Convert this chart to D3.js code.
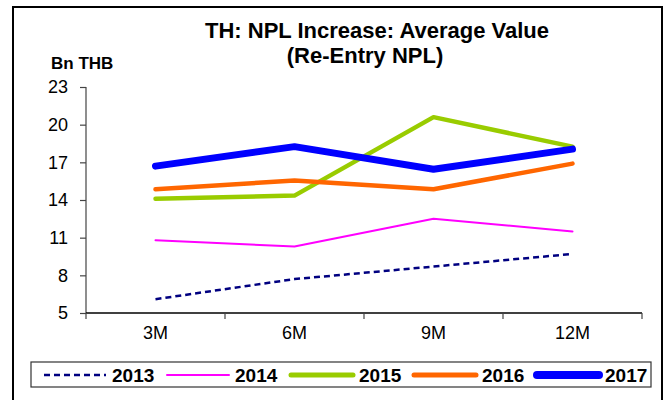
<!DOCTYPE html>
<html>
<head>
<meta charset="utf-8">
<script src="https://cdn.jsdelivr.net/npm/d3@7"></script>
<style>
  html, body { margin: 0; padding: 0; background: #fff; }
  svg text { font-family: Arial, "Liberation Sans", sans-serif; fill: #000; }
</style>
</head>
<body>
<svg id="chart" width="669" height="400"></svg>
<script>
// Horizons of the average re-entry NPL value
const periods = ["3M", "6M", "9M", "12M"];
const years = ["2013", "2014", "2015", "2016", "2017"];

// Average value, Bn THB
const v2013 = [6.1, 7.7, 8.7, 9.7];
const v2014 = [10.8, 10.3, 12.5, 11.5];
const v2015 = [14.1, 14.35, 20.6, 18.25];
const v2016 = [14.85, 15.55, 14.85, 16.9];
const v2017 = [16.7, 18.25, 16.45, 18.05];

const yTicks = [5, 8, 11, 14, 17, 20, 23];

const seriesValues = [v2013, v2014, v2015, v2016, v2017];
const styles = [
  { color: "#000080", width: 2.5, dash: "6,4", legendWidth: 2.5 },
  { color: "#FF00FF", width: 2, dash: null, legendWidth: 2 },
  { color: "#99CC00", width: 4.5, dash: null, legendWidth: 5 },
  { color: "#FF6600", width: 4.5, dash: null, legendWidth: 5 },
  { color: "#0000FF", width: 7, dash: null, legendWidth: 8 }
];

const svg = d3.select("#chart");

// outer frame
svg.append("rect")
  .attr("x", 13).attr("y", 7).attr("width", 649).attr("height", 400)
  .attr("fill", "none").attr("stroke", "#000").attr("stroke-width", 2);

const x = d3.scaleBand().domain(periods).range([86, 642]);
const y = d3.scaleLinear().domain([5, 23]).range([313, 87]);

// title
svg.append("text").attr("x", 377).attr("y", 38).attr("text-anchor", "middle")
  .style("font-size", "22px").style("font-weight", "bold")
  .text("TH: NPL Increase: Average Value");
svg.append("text").attr("x", 365).attr("y", 63).attr("text-anchor", "middle")
  .style("font-size", "22px").style("font-weight", "bold")
  .text("(Re-Entry NPL)");

// unit label
svg.append("text").attr("x", 51).attr("y", 69)
  .style("font-size", "17px").style("font-weight", "bold")
  .text("Bn THB");

// y axis
const yAxis = svg.append("g").attr("transform", "translate(86,0)")
  .call(d3.axisLeft(y).tickValues(yTicks).tickSize(6).tickPadding(12).tickFormat(d3.format("d")));
yAxis.selectAll("text").style("font-size", "18px").attr("fill", "#000");
yAxis.selectAll("line").attr("stroke", "#444").attr("stroke-width", 1.2);
yAxis.select(".domain").attr("stroke", "#444").attr("stroke-width", 1.2).attr("d", `M0,${y(23)}V${y(5)}`);

// x axis: labels at band centres, ticks on band boundaries
const xAxis = svg.append("g").attr("transform", `translate(0,${y(5)})`)
  .call(d3.axisBottom(x).tickSize(0).tickPadding(13));
xAxis.selectAll("text").style("font-size", "18px").attr("fill", "#000");
xAxis.select(".domain").attr("stroke", "#000").attr("stroke-width", 1.5).attr("d", `M${x.range()[0]},0H${x.range()[1]}`);
const bounds = periods.map(p => x(p)).concat([x(periods[periods.length - 1]) + x.bandwidth()]);
xAxis.selectAll(".bound").data(bounds).enter().append("line")
  .attr("x1", d => d).attr("x2", d => d).attr("y1", 0).attr("y2", 6)
  .attr("stroke", "#444").attr("stroke-width", 1.2);

// series lines
const line = d3.line()
  .x((d, i) => x(periods[i]) + x.bandwidth() / 2)
  .y(d => y(d));

seriesValues.forEach((vals, k) => {
  const s = styles[k];
  svg.append("path")
    .datum(vals)
    .attr("d", line)
    .attr("fill", "none")
    .attr("stroke", s.color)
    .attr("stroke-width", s.width)
    .attr("stroke-linejoin", "round")
    .attr("stroke-linecap", s.dash ? "butt" : "round")
    .attr("stroke-dasharray", s.dash);
});

// legend
const lg = svg.append("g");
lg.append("rect").attr("x", 31).attr("y", 362).attr("width", 620).attr("height", 25)
  .attr("fill", "#fff").attr("stroke", "#333").attr("stroke-width", 1.2);
const legendX = [44, 167, 291, 414, 537];
years.forEach((yr, k) => {
  const s = styles[k];
  lg.append("line")
    .attr("x1", legendX[k]).attr("x2", legendX[k] + 62)
    .attr("y1", 375).attr("y2", 375)
    .attr("stroke", s.color).attr("stroke-width", s.legendWidth)
    .attr("stroke-linecap", s.dash ? "butt" : "round")
    .attr("stroke-dasharray", s.dash);
  lg.append("text")
    .attr("x", legendX[k] + 68).attr("y", 382)
    .style("font-size", "19px").style("font-weight", "bold")
    .text(yr);
});
</script>
</body>
</html>
